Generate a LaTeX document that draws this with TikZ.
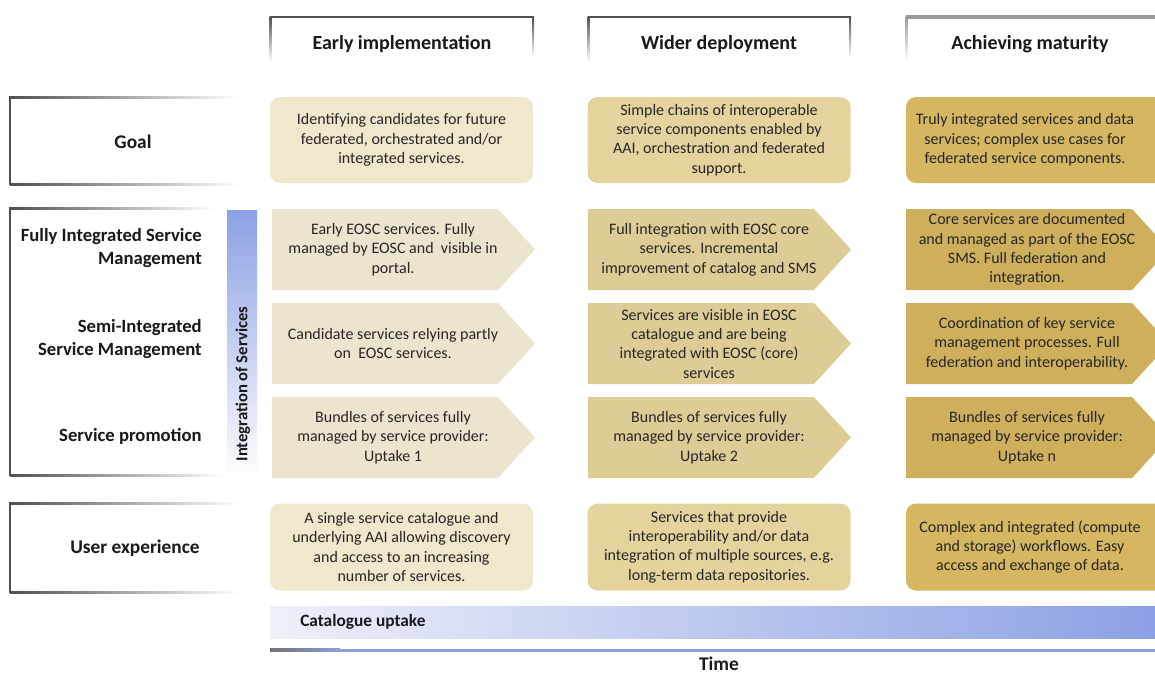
\documentclass[tikz,border=0pt]{standalone}
\usepackage{fontspec}
\setmainfont{Carlito}
\definecolor{cA}{RGB}{241,231,205}
\definecolor{cAa}{RGB}{237,228,208}
\definecolor{cB}{RGB}{229,211,158}
\definecolor{cBa}{RGB}{222,204,150}
\definecolor{cC}{RGB}{214,182,96}
\definecolor{cCa}{RGB}{208,175,92}
\definecolor{barblue}{RGB}{140,160,228}
\definecolor{lightblue}{RGB}{238,240,250}
\definecolor{timeblue}{RGB}{140,158,222}
\definecolor{linegray}{RGB}{80,80,80}
\newcommand{\arrowcell}[5]{%
  \fill[#4] (#2,#3) -- ++(226,0) -- ++(37,40.5) -- ++(-37,40.5) -- ++(-226,0) -- cycle;
  \node[celltext] (#1) at (#2+121,#3+40.5) {#5};}
\begin{document}
\begin{tikzpicture}[x=0.75pt,y=-0.75pt,
  celltext/.style={font=\fontsize{12}{14.5}\selectfont, align=center, text=black!85, inner sep=0pt},
  cellbox/.style={rounded corners=7.5pt, minimum width=197.25pt, inner sep=0pt, align=center,
    font=\fontsize{12}{14.5}\selectfont, text=black!85},
  hdr/.style={font=\fontsize{15}{18}\selectfont\bfseries, text=black!90},
  lab/.style={font=\fontsize{14}{17}\selectfont\bfseries, text=black!90, align=right, inner sep=0pt},
  labc/.style={font=\fontsize{14.5}{17}\selectfont\bfseries, text=black!90}]
\useasboundingbox (0,0) rectangle (1155,675);
\clip (0,0) rectangle (1155,675);
\fill[white] (0,0) rectangle (1155,675);

% ---------- header boxes ----------
\fill[linegray] (270,15.5) rectangle (533,17.5);
\shade[top color=linegray, bottom color=white] (269.5,16) rectangle (271.5,62);
\shade[top color=linegray, bottom color=white] (532,16) rectangle (534,58);
\node[hdr] (h1) at (402,44) {Early implementation};

\fill[linegray] (588,15.5) rectangle (850,17.5);
\shade[top color=linegray, bottom color=white] (587.5,16) rectangle (589.5,62);
\shade[top color=linegray, bottom color=white] (849,16) rectangle (851,58);
\node[hdr] (h2) at (719,44) {Wider deployment};

\fill[black!40] (906,15) rectangle (1155,19);
\shade[top color=black!40, bottom color=white] (905.5,16) rectangle (907.5,62);
\node[hdr] (h3) at (1030,44) {Achieving maturity};

% ---------- label boxes ----------
\fill[linegray] (9,96) rectangle (11,185);
\shade[left color=linegray, right color=white] (10,96) rectangle (240,98);
\shade[left color=linegray, right color=white] (10,183) rectangle (240,185);
\node[labc] (lgoal) at (133,142) {Goal};

\fill[linegray] (9,207) rectangle (11,476);
\shade[left color=linegray, right color=white] (10,207) rectangle (215,209);
\shade[left color=linegray, right color=white] (10,474) rectangle (225,476);
\node[lab, anchor=east] (lfism) at (202,248) {Fully Integrated Service\\Management};
\node[lab, anchor=east] (lsism) at (202,339) {Semi-Integrated\\Service Management};
\node[lab, anchor=east] (lsp) at (202,436) {Service promotion};

\fill[linegray] (9,502) rectangle (11,593);
\shade[left color=linegray, right color=white] (10,502) rectangle (240,504);
\shade[left color=linegray, right color=white] (10,591) rectangle (240,593);
\node[labc] (lux) at (135,548) {User experience};

% ---------- vertical integration bar ----------
\shade[top color=barblue, bottom color=white] (227,210) rectangle (257,480);
\node[font=\fontsize{12.5}{15}\selectfont\bfseries, text=black!90, rotate=90] (integ) at (243,384) {Integration of Services};

% ---------- goal row ----------
\node[cellbox, fill=cA, minimum height=64.5pt] (g1) at (401.5,140) {Identifying candidates for future\\federated, orchestrated and/or\\integrated services.};
\node[cellbox, fill=cB, minimum height=64.5pt] (g2) at (719,140) {Simple chains of interoperable\\service components enabled by\\AAI, orchestration and federated\\support.};
\node[cellbox, fill=cC, minimum height=64.5pt] (g3) at (1037.5,140) {};
\node[celltext] (g3t) at (1025,140) {Truly integrated services and data\\services; complex use cases for\\federated service components.};

% ---------- arrow rows ----------
\arrowcell{a11}{272}{209}{cAa}{Early EOSC services. Fully\\managed by EOSC and\ \ visible in\\portal.}
\arrowcell{a21}{588}{209}{cBa}{Full integration with EOSC core\\services. Incremental\\improvement of catalog and SMS}
\arrowcell{a31}{906}{209}{cCa}{Core services are documented\\and managed as part of the EOSC\\SMS. Full federation and\\integration.}

\arrowcell{a12}{272}{303}{cAa}{Candidate services relying partly\\on\ \ EOSC services.}
\arrowcell{a22}{588}{303}{cBa}{Services are visible in EOSC\\catalogue and are being\\integrated with EOSC (core)\\services}
\arrowcell{a32}{906}{303}{cCa}{Coordination of key service\\management processes. Full\\federation and interoperability.}

\arrowcell{a13}{272}{397}{cAa}{Bundles of services fully\\managed by service provider:\\Uptake 1}
\arrowcell{a23}{588}{397}{cBa}{Bundles of services fully\\managed by service provider:\\Uptake 2}
\arrowcell{a33}{906}{397}{cCa}{Bundles of services fully\\managed by service provider:\\Uptake n}

% ---------- user experience row ----------
\node[cellbox, fill=cA, minimum height=65.25pt] (u1) at (401.5,547) {A single service catalogue and\\underlying AAI allowing discovery\\and access to an increasing\\number of services.};
\node[cellbox, fill=cB, minimum height=65.25pt] (u2) at (719,547) {Services that provide\\interoperability and/or data\\integration of multiple sources, e.g.\\long-term data repositories.};
\node[cellbox, fill=cC, minimum height=65.25pt] (u3) at (1037.5,547) {};
\node[celltext] (u3t) at (1030,547) {Complex and integrated (compute\\and storage) workflows. Easy\\access and exchange of data.};

% ---------- catalogue uptake ----------
\shade[left color=lightblue, right color=barblue] (270,606) rectangle (1155,638);
\node[font=\fontsize{13}{15}\selectfont\bfseries, text=black!90, anchor=west, inner sep=0pt] (cat) at (300,622) {Catalogue uptake};

% ---------- time line ----------
\fill[timeblue] (270,648.5) rectangle (1155,651.5);
\shade[left color=black!55, right color=timeblue] (270,648.5) rectangle (340,651.5);
\node[font=\fontsize{14.5}{17}\selectfont\bfseries, text=black!90, inner sep=0pt] (time) at (719,664) {Time};
\end{tikzpicture}
\end{document}
